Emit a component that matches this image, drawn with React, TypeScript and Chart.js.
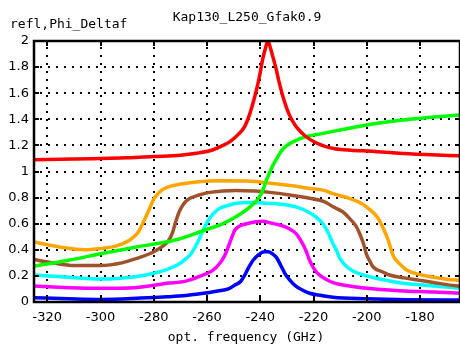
import React, { useEffect, useRef } from 'react';
import { Chart, registerables } from 'chart.js';
Chart.register(...registerables);

const xTicks = [-320, -300, -280, -260, -240, -220, -200, -180];
const yTicks = [0, 0.2, 0.4, 0.6, 0.8, 1, 1.2, 1.4, 1.6, 1.8, 2];

const redFreq = [-325, -310, -300, -290, -280, -270, -264, -258, -254, -251, -248, -246, -244, -242, -240.5, -239, -238, -237.2, -236.4, -235.3, -234, -233, -232, -231, -230, -229, -228, -226, -223, -220, -216, -212, -206, -198, -188, -178, -165];
const redVals = [1.09, 1.095, 1.1, 1.105, 1.115, 1.125, 1.14, 1.165, 1.2, 1.235, 1.29, 1.34, 1.44, 1.58, 1.71, 1.87, 1.95, 2.0, 1.96, 1.88, 1.78, 1.69, 1.61, 1.54, 1.48, 1.43, 1.39, 1.33, 1.27, 1.23, 1.195, 1.175, 1.163, 1.155, 1.14, 1.13, 1.12];

const greenFreq = [-325, -312, -300, -287, -272, -261, -254, -249, -245, -242.5, -240.5, -239, -237.7, -236.5, -235.2, -233.5, -232, -230, -227, -223, -217, -210, -200, -188, -176, -165];
const greenVals = [0.275, 0.32, 0.37, 0.42, 0.475, 0.55, 0.6, 0.655, 0.71, 0.755, 0.8, 0.86, 0.935, 0.99, 1.05, 1.11, 1.16, 1.2, 1.235, 1.265, 1.29, 1.318, 1.356, 1.39, 1.415, 1.433];

const orangeFreq = [-325, -315, -306, -300, -294, -289, -286, -283.5, -281.5, -280, -278, -276, -272, -264, -255, -245, -236, -228, -221.5, -216, -212.7, -206, -202, -199, -196, -193.5, -192, -190, -188, -185, -180, -175, -170, -165];
const orangeVals = [0.46, 0.42, 0.4, 0.41, 0.43, 0.475, 0.53, 0.63, 0.72, 0.79, 0.84, 0.87, 0.895, 0.92, 0.93, 0.927, 0.91, 0.89, 0.87, 0.855, 0.83, 0.79, 0.755, 0.71, 0.65, 0.55, 0.475, 0.35, 0.3, 0.245, 0.21, 0.19, 0.175, 0.165];

const brownFreq = [-325, -318, -310, -300, -292, -287, -280, -276.5, -274.5, -273, -272, -270.5, -268.5, -266.4, -263, -259, -249, -242, -236.4, -229, -221.5, -216, -212.7, -209, -206.5, -204, -202.7, -201.3, -200.2, -198.8, -197.7, -194, -191.5, -186, -181.5, -175, -170, -165];
const brownVals = [0.325, 0.3, 0.28, 0.28, 0.3, 0.33, 0.385, 0.43, 0.47, 0.53, 0.6, 0.69, 0.76, 0.795, 0.82, 0.84, 0.855, 0.85, 0.84, 0.82, 0.795, 0.77, 0.73, 0.69, 0.64, 0.58, 0.525, 0.45, 0.37, 0.31, 0.27, 0.23, 0.207, 0.185, 0.17, 0.15, 0.133, 0.12];

const cyanFreq = [-325, -312, -300, -287, -280, -275, -271, -268, -266, -264.5, -263, -261.5, -260, -258.5, -257, -255, -252, -249, -244, -240, -235, -230, -226, -222, -219, -216.5, -214.5, -213, -211.5, -210, -208, -205, -200, -194, -187.7, -178, -165];
const cyanVals = [0.207, 0.19, 0.176, 0.194, 0.22, 0.25, 0.285, 0.33, 0.37, 0.42, 0.48, 0.55, 0.61, 0.655, 0.69, 0.72, 0.74, 0.756, 0.762, 0.76, 0.755, 0.743, 0.725, 0.69, 0.65, 0.6, 0.53, 0.46, 0.4, 0.33, 0.28, 0.235, 0.2, 0.17, 0.148, 0.128, 0.105];

const magentaFreq = [-325, -312, -300, -287, -275, -268, -261.4, -258, -255.2, -253.5, -252.1, -250.8, -249.6, -247.5, -245.2, -242, -239, -236, -232.7, -229.5, -226.4, -224.5, -223, -221.5, -220, -218, -215, -212.7, -206, -200.2, -187.7, -175, -165];
const magentaVals = [0.123, 0.11, 0.105, 0.11, 0.143, 0.16, 0.207, 0.24, 0.297, 0.35, 0.42, 0.49, 0.55, 0.585, 0.6, 0.613, 0.618, 0.605, 0.59, 0.565, 0.52, 0.46, 0.4, 0.32, 0.26, 0.21, 0.17, 0.148, 0.12, 0.105, 0.087, 0.076, 0.067];

const blueFreq = [-325, -312, -300, -285, -275, -268, -261.4, -256, -252, -249.5, -247.5, -246, -244.5, -242.7, -240.5, -238.5, -237, -235.5, -233.9, -232.3, -230.8, -229, -226.4, -224, -221.5, -217, -212.7, -200, -185, -165];
const blueVals = [0.033, 0.025, 0.02, 0.03, 0.04, 0.05, 0.067, 0.085, 0.1, 0.13, 0.155, 0.2, 0.26, 0.32, 0.365, 0.385, 0.385, 0.37, 0.34, 0.28, 0.22, 0.17, 0.117, 0.09, 0.067, 0.05, 0.036, 0.025, 0.018, 0.015];

const series = [
  { name: 'red', freq: redFreq, vals: redVals, color: '#ff0000' },
  { name: 'green', freq: greenFreq, vals: greenVals, color: '#00ff00' },
  { name: 'orange', freq: orangeFreq, vals: orangeVals, color: '#ffa500' },
  { name: 'brown', freq: brownFreq, vals: brownVals, color: '#a0522d' },
  { name: 'cyan', freq: cyanFreq, vals: cyanVals, color: '#00ffff' },
  { name: 'magenta', freq: magentaFreq, vals: magentaVals, color: '#ff00ff' },
  { name: 'blue', freq: blueFreq, vals: blueVals, color: '#0000ff' },
];

const titleText = 'Kap130_L250_Gfak0.9';
const yLabelText = 'refl,Phi_Deltaf';
const xLabelText = 'opt. frequency (GHz)';

const framePlugin = {
  id: 'framePlugin',
  beforeDatasetsDraw(chart: any) {
    const { ctx, chartArea: a, scales } = chart;
    const xs = scales.x, ys = scales.y;
    ctx.save();
    ctx.fillStyle = '#000000';
    for (const v of xTicks) {
      const px = Math.round(xs.getPixelForValue(v)) - 1;
      for (let y = a.top + 6; y < a.bottom - 3; y += 8) ctx.fillRect(px, Math.round(y), 2, 2);
    }
    for (const v of yTicks) {
      const py = Math.round(ys.getPixelForValue(v)) - 1;
      for (let x = a.left + 6; x < a.right - 3; x += 8) ctx.fillRect(Math.round(x), py, 2, 2);
    }
    ctx.restore();
  },
  afterDatasetsDraw(chart: any) {
    const { ctx, chartArea: a, scales } = chart;
    const xs = scales.x, ys = scales.y;
    ctx.save();
    ctx.strokeStyle = '#000';
    ctx.lineWidth = 2;
    ctx.beginPath();
    for (const v of xTicks) {
      const px = Math.round(xs.getPixelForValue(v));
      ctx.moveTo(px, a.bottom); ctx.lineTo(px, a.bottom - 5);
      ctx.moveTo(px, a.top); ctx.lineTo(px, a.top + 5);
    }
    for (const v of yTicks) {
      const py = Math.round(ys.getPixelForValue(v));
      ctx.moveTo(a.left, py); ctx.lineTo(a.left + 5, py);
      ctx.moveTo(a.right, py); ctx.lineTo(a.right - 5, py);
    }
    ctx.stroke();
    ctx.lineWidth = 2.5;
    ctx.strokeRect(a.left, a.top, a.right - a.left, a.bottom - a.top);
    ctx.restore();
  },
  afterDraw(chart: any) {
    const { ctx, chartArea: a } = chart;
    ctx.save();
    ctx.fillStyle = '#000';
    ctx.font = '13px "DejaVu Sans Mono"';
    ctx.textBaseline = 'middle';
    ctx.textAlign = 'center';
    ctx.fillText(titleText, (a.left + a.right) / 2, 18);
    ctx.fillText(xLabelText, (a.left + a.right) / 2 - 1, 338);
    ctx.textAlign = 'left';
    ctx.fillText(yLabelText, 10, 25);
    ctx.restore();
  },
};

export default function App() {
  const ref = useRef<HTMLCanvasElement>(null);
  useEffect(() => {
    document.body.style.margin = '0';
    const chart = new Chart(ref.current as HTMLCanvasElement, {
      type: 'line',
      data: {
        datasets: series.map((s) => ({
          label: s.name,
          data: s.freq.map((f, i) => ({ x: f, y: s.vals[i] })),
          borderColor: s.color,
          backgroundColor: s.color,
          borderWidth: 3.5,
          pointRadius: 0,
          cubicInterpolationMode: 'monotone' as const,
          fill: false,
        })),
      },
      options: {
        animation: false,
        responsive: false,
        devicePixelRatio: 1,
        layout: { padding: { top: 41, left: 0, right: 0, bottom: 0 } },
        plugins: { legend: { display: false }, tooltip: { enabled: false }, title: { display: false } },
        scales: {
          x: {
            type: 'linear',
            min: -325,
            max: -165,
            afterBuildTicks: (s: any) => { s.ticks = xTicks.map((v) => ({ value: v })); },
            afterFit: (s: any) => { s.height = 45; },
            ticks: { color: '#000', font: { family: 'DejaVu Sans', size: 13 }, padding: 8, maxRotation: 0, autoSkip: false, callback: (v: any) => String(v) },
            grid: { display: false, drawTicks: false },
            border: { display: false },
          },
          y: {
            type: 'linear',
            min: 0,
            max: 2,
            afterBuildTicks: (s: any) => { s.ticks = yTicks.map((v) => ({ value: v })); },
            afterFit: (s: any) => { s.width = 34; },
            ticks: { color: '#000', font: { family: 'DejaVu Sans', size: 13 }, padding: 5, autoSkip: false, callback: (v: any) => String(+Number(v).toFixed(1)) },
            grid: { display: false, drawTicks: false },
            border: { display: false },
          },
        },
      },
      plugins: [framePlugin],
    });
    return () => chart.destroy();
  }, []);
  return (
    <div style={{ width: 460, height: 347, overflow: 'hidden' }}>
      <canvas ref={ref} width={460} height={347} />
    </div>
  );
}
